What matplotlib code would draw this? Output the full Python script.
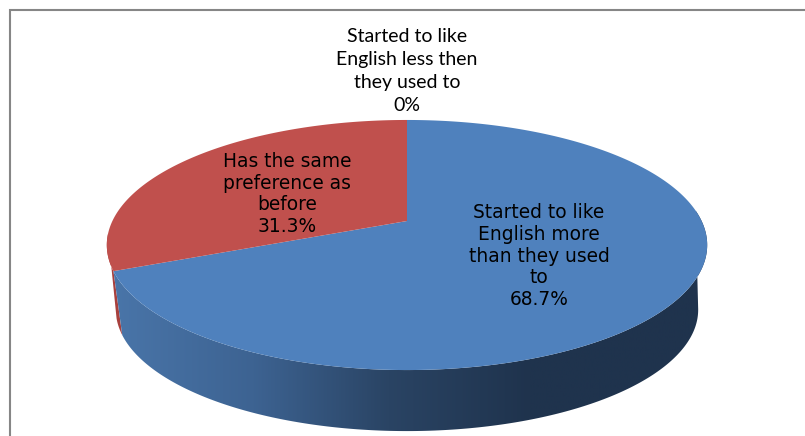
import numpy as np
import matplotlib
matplotlib.use('Agg')
import matplotlib.pyplot as plt
from matplotlib.colors import LinearSegmentedColormap
from matplotlib.patches import Polygon, Rectangle

shares = [68.7, 31.3, 0]
names = ['Started to like\nEnglish more\nthan they used\nto',
         'Has the same\npreference as\nbefore',
         'Started to like\nEnglish less then\nthey used to']
value_labels = ['68.7%', '31.3%', '0%']
top_colors = ['#4f81bd', '#c0504d', '#9bbb59']
side_red = '#a8403d'

# pie projection, everything in pixels
cx, cy = 407, 221
half_w = 294.6
tilt = 0.192
slope = -78
wall_scale = 0.97
wall_drop = 65.5


def ring(theta, lower=False):
    u, v = np.sin(theta), np.cos(theta)
    x = half_w * u / (1 + tilt * v)
    y = (slope * v + cy) / (1 + tilt * v) - cy
    if lower:
        return cx + wall_scale * x, cy + wall_drop + wall_scale * y
    return cx + x, cy + y


fig = plt.figure(figsize=(8.05, 4.36), dpi=100)
ax = fig.add_axes([0, 0, 1, 1])
ax.axis('off')

# outer frame, open on the right and at the bottom
ax.plot([10, 10, 805], [435, 10, 10], color='#868686', lw=1.5, solid_joinstyle='miter')

edges = np.radians(np.cumsum([0] + shares) / sum(shares) * 360)

# side walls first, the top face covers whatever overlaps
shade = LinearSegmentedColormap.from_list('wall', [(0, '#4a76aa'), (0.24, '#3d6392'), (0.46, '#2a4464'),
                                                   (0.69, '#1f334d'), (1, '#1f334d')])
x1, y1 = ring(np.linspace(np.radians(85), edges[1], 200))
x2, y2 = ring(np.linspace(np.radians(100), edges[1], 200), lower=True)
wall = Polygon(np.r_[np.c_[x1, y1], np.c_[x2, y2][::-1]], closed=True, fc='none', ec='none')
ax.add_patch(wall)
grad = ax.imshow(np.linspace(0, 1, 256)[None, :], cmap=shade, extent=[105, 720, 436, 100], aspect='auto', zorder=1)
grad.set_clip_path(wall)

# thin strip of the red slice's wall on the far left
x1, y1 = ring(np.linspace(edges[1], np.radians(264), 40))
x2, y2 = ring(np.linspace(np.radians(255), edges[1], 10), lower=True)
ax.fill(np.r_[x1, x2], np.r_[y1, y2], color=side_red, lw=0, zorder=0.5)

# top face
for i in range(len(shares)):
    t = np.linspace(edges[i], edges[i + 1], 300)
    x, y = ring(t)
    ax.fill(np.r_[cx, x], np.r_[cy, y], color=top_colors[i], lw=0, zorder=2)

# slice labels
label_x = [539, 287, 407]
label_y = [256, 194, 71]
label_font = [['DejaVu Sans'], ['DejaVu Sans'], ['Lato']]
label_size = [13.4, 13.4, 14]
label_spacing = [1.195, 1.195, 1.44]
for i in range(len(shares)):
    label = ax.text(label_x[i], label_y[i], names[i] + '\n' + value_labels[i], ha='center', va='center',
                    multialignment='center', family=label_font[i], fontsize=label_size[i], color='black',
                    linespacing=label_spacing[i], zorder=3)
    if i == 2:
        # the last line of this label stops short above the pie
        label.set_clip_path(Rectangle((0, 0), 805, 110, transform=ax.transData))

ax.set_xlim(0, 805)
ax.set_ylim(436, 0)
fig.savefig('out.png', dpi=100, facecolor='white')
